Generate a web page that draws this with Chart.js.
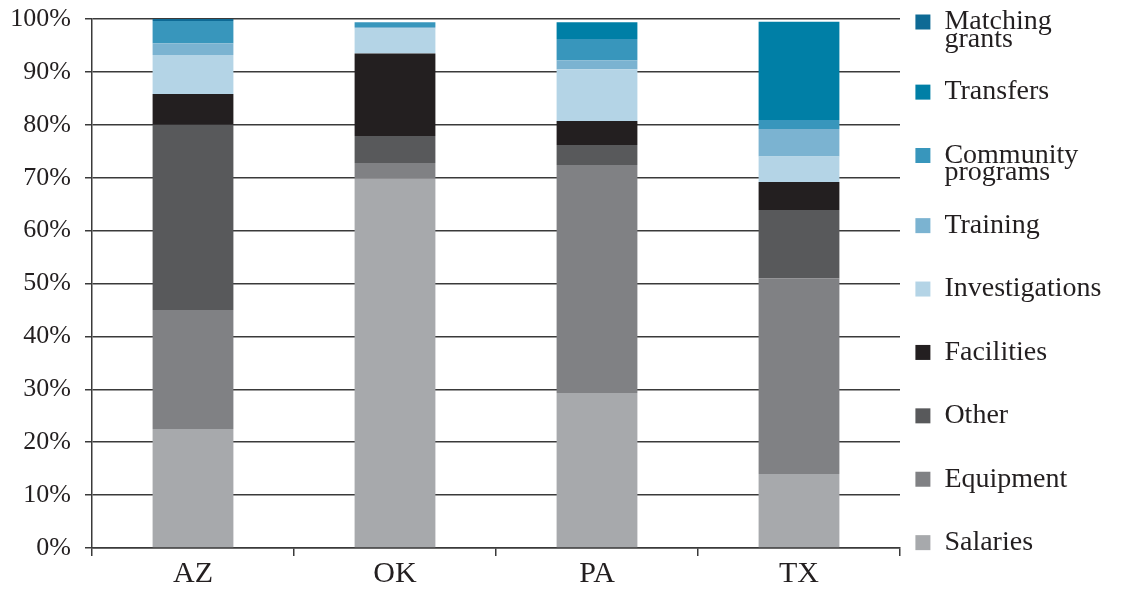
<!DOCTYPE html>
<html>
<head>
<meta charset="utf-8">
<script src="https://cdn.jsdelivr.net/npm/chart.js@4/dist/chart.umd.min.js"></script>
<style>
    html, body { margin: 0; padding: 0; background: #fff; }
    #caja { width: 1122px; height: 590px; }
</style>
</head>
<body>
<div id="caja"><canvas id="grafica"></canvas></div>
<script>
// estados
const estados = ['AZ', 'OK', 'PA', 'TX'];

// porcentaje de cada partida, de abajo arriba
const salaries = [22.5, 69.8, 29.3, 14.0];
const equipment = [22.5, 3.0, 43.1, 37.0];
const other = [35.0, 5.1, 3.8, 12.9];
const facilities = [5.8, 15.6, 4.5, 5.3];
const investigations = [7.4, 4.7, 9.8, 4.8];
const training = [2.2, 0.3, 1.7, 5.2];
const community = [4.2, 0.9, 4.0, 1.7];
const transfers = [0, 0, 3.2, 18.6];
const matching = [0.4, 0, 0, 0];

const ticksY = [0, 10, 20, 30, 40, 50, 60, 70, 80, 90, 100];

const tinta = '#231f20';
const fuente = 'Liberation Serif';

const paddingLeyenda = 35.4;

function serie(nombre, datos, color) {
    return {
        label: nombre,
        data: datos,
        backgroundColor: color,
        borderWidth: 0,
        barPercentage: 0.4,
        categoryPercentage: 1.0
    };
}

// la leyenda va en una sola columna, pegada a la derecha
const ajusteLeyenda = {
    id: 'ajusteLeyenda',
    beforeInit(chart) {
        const leyenda = chart.legend;
        const fitOriginal = leyenda.fit;
        leyenda.fit = function () {
            const h = this.maxHeight;
            this.maxHeight = h * 2;
            fitOriginal.call(this);
            this.maxHeight = h;
            this.height = h;
            this.width = 222;
        };
    },
    afterLayout(chart) {
        const leyenda = chart.legend;
        leyenda.left -= 20;
        leyenda.top = 8 - paddingLeyenda;
        leyenda.bottom = chart.height + 100;
    }
};

new Chart(document.getElementById('grafica'), {
    type: 'bar',
    data: {
        labels: estados,
        datasets: [
            serie('Salaries', salaries, '#a7a9ac'),
            serie('Equipment', equipment, '#808184'),
            serie('Other', other, '#58595b'),
            serie('Facilities', facilities, '#231f20'),
            serie('Investigations', investigations, '#b4d4e6'),
            serie('Training', training, '#7bb3d1'),
            serie(['Community', 'programs'], community, '#3896bc'),
            serie('Transfers', transfers, '#007fa6'),
            serie(['Matching', 'grants'], matching, '#0e6a95')
        ]
    },
    options: {
        responsive: true,
        maintainAspectRatio: false,
        animation: false,
        layout: {
            padding: { top: 19 }
        },
        scales: {
            x: {
                stacked: true,
                afterFit: function (scale) { scale.height = 42; },
                grid: {
                    offset: true,
                    drawOnChartArea: false,
                    tickLength: 8,
                    color: '#3a3a3a',
                    lineWidth: 1.5
                },
                border: { color: '#3a3a3a', width: 1.5 },
                ticks: {
                    color: tinta,
                    padding: 0,
                    font: { family: fuente, size: 30 }
                }
            },
            y: {
                stacked: true,
                min: 0,
                max: 100,
                afterFit: function (scale) {
                    scale.width = 92;
                    scale.paddingTop = 0;
                    scale.paddingBottom = 0;
                },
                afterBuildTicks: function (scale) {
                    scale.ticks = ticksY.map(v => ({ value: v }));
                },
                grid: {
                    tickLength: 7,
                    color: '#3a3a3a',
                    lineWidth: 1.5
                },
                border: { color: '#3a3a3a', width: 1.5 },
                ticks: {
                    color: tinta,
                    padding: 14,
                    font: { family: fuente, size: 26 },
                    callback: function (valor) { return valor + '%'; }
                }
            }
        },
        plugins: {
            legend: {
                position: 'right',
                align: 'start',
                reverse: true,
                labels: {
                    boxWidth: 15,
                    boxHeight: 15,
                    padding: paddingLeyenda,
                    color: tinta,
                    font: { family: fuente, size: 28, lineHeight: 0.62 }
                }
            },
            tooltip: { enabled: false }
        }
    },
    plugins: [ajusteLeyenda]
});
</script>
</body>
</html>
